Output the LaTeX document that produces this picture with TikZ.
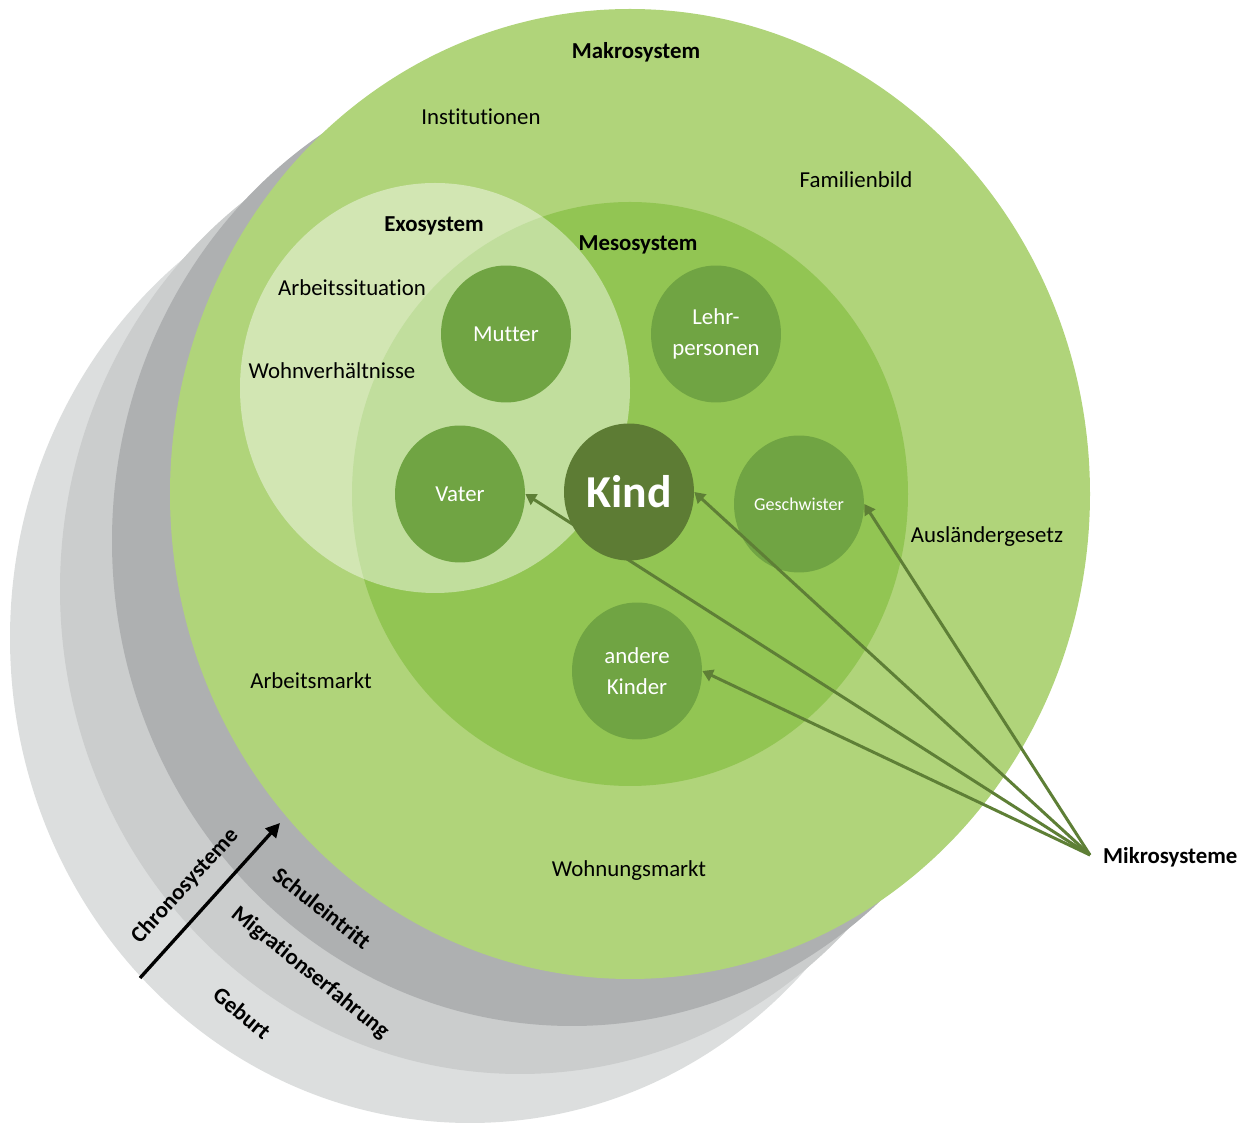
\documentclass[tikz,border=0pt]{standalone}
\usepackage{fontspec}
\setmainfont{Carlito}[Ligatures=NoCommon]
\usepackage{tikz}
\usetikzlibrary{arrows.meta, shapes.geometric}
\usepackage{xcolor}
\definecolor{makro}{HTML}{B0D47A}
\definecolor{meso}{HTML}{92C553}
\definecolor{mikro}{HTML}{70A443}
\definecolor{kindgruen}{HTML}{5D7C34}
\definecolor{pfeilgruen}{HTML}{5E7F36}
\definecolor{grauA}{HTML}{AEB0B1}
\definecolor{grauB}{HTML}{CBCDCD}
\definecolor{grauC}{HTML}{DCDEDE}
\pgfdeclarelayer{front}
\pgfsetlayers{main,front}

\begin{document}
\begin{tikzpicture}[x=0.02cm, y=-0.02cm,
  font=\fontsize{13}{18}\selectfont,
  titel/.style={font=\fontsize{13}{18}\selectfont\bfseries},
  person/.style={ellipse, fill=mikro, text=white, minimum width=2.6cm, minimum height=2.74cm, inner sep=0pt, align=center},
  mikropfeil/.style={pfeilgruen, line width=1.7pt, -{Triangle[length=6pt,width=7pt]}}]
\useasboundingbox (0,0) rectangle (1249,1124);

% Chronosysteme
\fill[grauC] (470,638) ellipse [x radius=460, y radius=485];
\fill[grauB] (520,589) ellipse [x radius=460, y radius=485];
\fill[grauA] (572,541) ellipse [x radius=460, y radius=485];

% Makro-, Meso-, Exosystem
\fill[makro] (630,494) ellipse [x radius=460, y radius=485];
\fill[meso] (630,494) ellipse [x radius=278, y radius=292];
\fill[white, opacity=0.43] (435,388) ellipse [x radius=195, y radius=205];

\node[titel] (makro_l) at (636,52) {Makrosystem};
\node (inst) at (481,117) {Institutionen};
\node (famb) at (856,180) {Familienbild};
\node[titel] (exo_l) at (434,226) {Exosystem};
\node[titel] (meso_l) at (638,245) {Mesosystem};
\node (arbs) at (352,288) {Arbeitssituation};
\node (wohnv) at (332,371) {Wohnverhältnisse};
\node (ausl) at (987,537) {Ausländergesetz};
\node (arbm) at (311,681) {Arbeitsmarkt};
\node (wohnm) at (629,871) {Wohnungsmarkt};

% Mikrosysteme
\node[person] (mutter) at (506,334) {Mutter};
\node[person] (lehr) at (716,334) {Lehr-\\personen};
\node[person] (vater) at (460,494) {Vater};
\node[person, font=\fontsize{10.3}{12}\selectfont] (geschw) at (799,504) {Geschwister};
\node[person] (andere) at (637,671) {andere\\Kinder};
\begin{pgfonlayer}{front}
\node[person, fill=kindgruen, font=\fontsize{26}{30}\selectfont\bfseries] (kind) at (629,492) {Kind};
\end{pgfonlayer}

\node[titel, anchor=west] (mikro_l) at (1097,857) {Mikrosysteme};
\coordinate (mikro) at (1090,855);
\draw[mikropfeil] (mikro) -- (vater.east);
\draw[mikropfeil] (mikro) -- (kind.east);
\draw[mikropfeil] (mikro) -- (geschw.east);
\draw[mikropfeil] (mikro) -- (andere.east);

% Zeitachse
\coordinate (chrono_a) at (140,978);
\coordinate (chrono_b) at (280,823);
\draw[black, line width=1.9pt, -{Triangle[length=8pt,width=8pt]}] (chrono_a) -- (chrono_b);
\node[titel, rotate=47.5] (chrono) at (185,886) {Chronosysteme};
\node[titel, rotate=-38] (schule) at (322,908) {Schuleintritt};
\node[titel, rotate=-39] (migr) at (310,973) {Migrationserfahrung};
\node[titel, rotate=-39.5] (geburt) at (242,1013) {Geburt};
\end{tikzpicture}
\end{document}
